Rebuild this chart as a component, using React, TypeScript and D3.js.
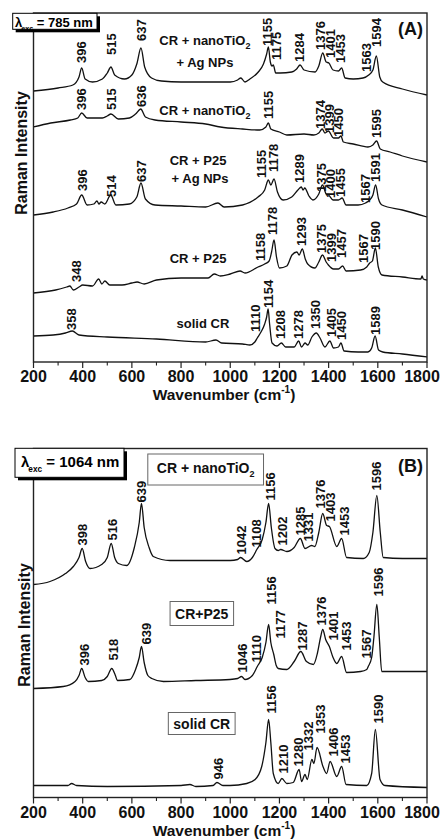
import React, { useEffect, useRef } from "react";
import * as d3 from "d3";

type Pt = [number, number];
// [label text, anchor wavenumber, intensity at the label's lower end]
type PeakLabel = [string, number, number];
// [main text, subscript, centre wavenumber, baseline intensity]
type SeriesLabel = [string, string, number, number];

const majorTicks = [200, 400, 600, 800, 1000, 1200, 1400, 1600, 1800];
const minorTicks = [300, 500, 700, 900, 1100, 1300, 1500, 1700];

// ---------- Panel A (λexc = 785 nm) spectra, wavenumber vs intensity (a.u.) ----------
const a785TiO2Ag: Pt[] = [
  [200, 271], [300, 274], [360, 277], [385, 285], [396, 294], [410, 283], [440, 280], [480, 283],
  [500, 289], [515, 295], [530, 287], [570, 283], [600, 287], [620, 298], [637, 314], [652, 295],
  [680, 284], [720, 281], [800, 280], [900, 280], [1000, 280], [1030, 282], [1043, 284], [1060, 280],
  [1080, 283], [1114, 290], [1135, 298], [1148, 308], [1155, 315], [1163, 300], [1170, 296], [1175, 297],
  [1185, 289], [1203, 289], [1250, 290], [1270, 293], [1284, 297], [1300, 292], [1345, 290], [1360, 296],
  [1376, 309], [1390, 300], [1401, 299], [1418, 292], [1440, 291], [1453, 294], [1467, 284], [1500, 283],
  [1540, 284], [1563, 287], [1580, 292], [1594, 306], [1608, 285], [1620, 280], [1700, 273], [1800, 267],
];
const a785TiO2: Pt[] = [
  [200, 235], [270, 239], [350, 242], [380, 244], [396, 249], [418, 244], [480, 244], [500, 246],
  [515, 248], [545, 243], [590, 244], [615, 248], [636, 253], [655, 245], [694, 242], [800, 240],
  [900, 238], [960, 235], [1050, 233], [1120, 232], [1145, 235], [1155, 239], [1165, 233], [1200, 230],
  [1230, 227], [1300, 228], [1340, 227], [1360, 229], [1374, 233], [1385, 229], [1399, 231], [1420, 224],
  [1440, 224], [1450, 226], [1460, 220], [1500, 218], [1560, 215], [1580, 217], [1595, 221], [1610, 213],
  [1650, 210], [1700, 206], [1800, 200],
];
const a785P25Ag: Pt[] = [
  [200, 147], [280, 150], [340, 154], [375, 158], [396, 167], [418, 157], [445, 158], [458, 161],
  [466, 158], [475, 160], [490, 158], [514, 167], [535, 157], [590, 158], [620, 165], [637, 179],
  [655, 163], [694, 157], [800, 156], [900, 155], [950, 159], [975, 155], [1050, 157], [1113, 165],
  [1140, 172], [1155, 182], [1165, 177], [1178, 183], [1192, 170], [1215, 162], [1250, 165], [1275, 172],
  [1289, 175], [1296, 172], [1303, 174], [1320, 166], [1336, 162], [1360, 168], [1375, 177], [1390, 168],
  [1400, 167], [1418, 162], [1440, 162], [1455, 164], [1471, 157], [1520, 157], [1550, 159], [1567, 162],
  [1580, 167], [1591, 177], [1603, 163], [1617, 157], [1700, 152], [1800, 145],
];
const a785P25: Pt[] = [
  [200, 69], [290, 72], [335, 75], [348, 76], [362, 72], [385, 75], [400, 77], [440, 76],
  [465, 83], [478, 78], [490, 81], [510, 77], [560, 77], [600, 79], [621, 80], [650, 78],
  [700, 82], [800, 84], [910, 84], [935, 88], [960, 86], [1000, 88], [1040, 91], [1060, 89],
  [1113, 95], [1140, 98], [1158, 101], [1168, 110], [1178, 122], [1188, 105], [1200, 94], [1230, 96],
  [1251, 107], [1271, 110], [1280, 107], [1293, 113], [1305, 103], [1315, 98], [1344, 94], [1360, 100],
  [1375, 107], [1390, 100], [1399, 97], [1420, 93], [1440, 93], [1457, 96], [1471, 91], [1530, 92],
  [1555, 95], [1567, 99], [1578, 101], [1590, 114], [1602, 95], [1617, 87], [1700, 85], [1775, 83],
  [1780, 86], [1785, 83], [1800, 82],
];
const a785Solid: Pt[] = [
  [200, 26], [280, 27], [330, 29], [358, 31], [385, 27], [500, 25], [700, 23], [900, 20],
  [942, 22], [965, 19], [1050, 18], [1080, 17], [1100, 20], [1110, 24], [1125, 30], [1140, 38],
  [1148, 45], [1154, 53], [1160, 38], [1170, 19], [1190, 16], [1208, 19], [1225, 15], [1260, 15],
  [1278, 21], [1290, 15], [1304, 19], [1315, 17], [1332, 25], [1350, 29], [1365, 24], [1385, 15],
  [1405, 21], [1420, 14], [1440, 15], [1450, 19], [1463, 11], [1520, 10], [1560, 10], [1575, 14],
  [1589, 26], [1603, 12], [1620, 10], [1700, 8], [1800, 5],
];

// ---------- Panel B (λexc = 1064 nm) spectra ----------
const b1064TiO2: Pt[] = [
  [200, 213], [267, 216], [330, 224], [362, 231], [385, 240], [398, 249], [412, 236], [430, 229],
  [477, 233], [500, 240], [516, 254], [530, 240], [545, 234], [579, 232], [610, 250], [630, 275],
  [639, 294], [650, 270], [670, 250], [687, 241], [755, 237], [900, 237], [1000, 237], [1030, 238],
  [1042, 240], [1067, 236], [1090, 240], [1108, 248], [1130, 258], [1145, 275], [1156, 294], [1167, 270],
  [1182, 249], [1195, 247], [1205, 248], [1230, 246], [1260, 250], [1285, 259], [1304, 249], [1331, 252],
  [1344, 251], [1360, 265], [1376, 284], [1392, 272], [1403, 271], [1433, 251], [1453, 259], [1473, 240],
  [1541, 239], [1565, 245], [1580, 265], [1596, 302], [1610, 265], [1622, 240], [1700, 239], [1800, 239],
];
const b1064P25: Pt[] = [
  [200, 109], [321, 111], [369, 116], [385, 122], [396, 129], [410, 120], [423, 116], [477, 117],
  [500, 121], [518, 129], [533, 122], [541, 117], [592, 118], [615, 128], [630, 140], [639, 151],
  [650, 135], [665, 122], [681, 119], [728, 116], [860, 117], [999, 118], [1030, 119], [1046, 121],
  [1060, 118], [1090, 122], [1110, 131], [1130, 140], [1145, 155], [1156, 173], [1165, 155], [1177, 143],
  [1187, 132], [1195, 129], [1230, 128], [1260, 136], [1287, 146], [1310, 136], [1338, 133], [1355, 145],
  [1367, 160], [1376, 168], [1388, 158], [1403, 151], [1418, 140], [1433, 134], [1453, 141], [1473, 125],
  [1530, 126], [1555, 128], [1561, 131], [1575, 140], [1584, 160], [1596, 193], [1606, 160], [1616, 126],
  [1700, 126], [1800, 126],
];
const b1064Solid: Pt[] = [
  [200, 12], [340, 12], [355, 14], [375, 12], [500, 11], [800, 12], [836, 13], [860, 11],
  [930, 12], [946, 15], [970, 12], [999, 12], [1067, 14], [1101, 18], [1128, 31], [1145, 55],
  [1156, 78], [1165, 55], [1175, 24], [1195, 14], [1210, 19], [1230, 14], [1256, 15], [1280, 28],
  [1290, 16], [1304, 23], [1313, 18], [1332, 38], [1340, 34], [1353, 50], [1377, 31], [1392, 24],
  [1406, 36], [1433, 21], [1453, 31], [1471, 13], [1555, 12], [1575, 24], [1590, 68], [1609, 18],
  [1629, 12], [1800, 10],
];

// ---------- Peak labels ----------
const labelsA: PeakLabel[] = [
  ["396", 396, 299], ["515", 518, 307], ["637", 640, 321], ["1155", 1152, 316], ["1175", 1189, 302],
  ["1284", 1280, 300], ["1376", 1368, 312], ["1401", 1406, 304], ["1453", 1449, 299], ["1563", 1552, 290],
  ["1594", 1593, 315],
  ["396", 396, 252], ["515", 518, 252], ["636", 640, 255], ["1155", 1155, 243], ["1374", 1368, 233],
  ["1399", 1403, 229], ["1450", 1440, 225], ["1595", 1593, 224],
  ["396", 400, 171], ["514", 518, 165], ["637", 640, 180], ["1155", 1128, 184], ["1178", 1175, 190],
  ["1289", 1281, 179], ["1375", 1372, 170], ["1400", 1406, 164], ["1455", 1449, 165], ["1567", 1548, 159],
  ["1591", 1588, 180],
  ["348", 374, 80], ["1158", 1121, 101], ["1178", 1172, 127], ["1293", 1290, 116], ["1375", 1372, 109],
  ["1399", 1412, 100], ["1457", 1453, 104], ["1567", 1541, 99], ["1590", 1588, 112],
  ["358", 355, 32], ["1110", 1101, 30], ["1154", 1155, 54], ["1208", 1202, 23], ["1278", 1277, 23],
  ["1350", 1344, 33], ["1405", 1412, 25], ["1450", 1453, 22], ["1589", 1588, 27],
];
const labelsB: PeakLabel[] = [
  ["398", 400, 252], ["516", 522, 257], ["639", 640, 295], ["1042", 1047, 243], ["1108", 1108, 250],
  ["1156", 1164, 297], ["1202", 1212, 252], ["1285", 1284, 262], ["1331", 1318, 256], ["1376", 1368, 289],
  ["1403", 1406, 276], ["1453", 1463, 262], ["1596", 1595, 307],
  ["396", 405, 132], ["518", 524, 137], ["639", 660, 153], ["1046", 1051, 125], ["1110", 1108, 135],
  ["1156", 1168, 193], ["1177", 1205, 159], ["1287", 1295, 147], ["1376", 1372, 172], ["1401", 1419, 157],
  ["1453", 1473, 147], ["1567", 1555, 139], ["1596", 1602, 201],
  ["946", 952, 18], ["1156", 1168, 84], ["1210", 1216, 24], ["1280", 1277, 31], ["1332", 1318, 47],
  ["1353", 1365, 64], ["1406", 1419, 41], ["1453", 1467, 34], ["1590", 1600, 74],
];

// ---------- Series labels ----------
const seriesA: SeriesLabel[] = [
  ["CR + nanoTiO", "2", 897, 317],
  ["+ Ag NPs", "", 897, 295],
  ["CR + nanoTiO", "2", 897, 247],
  ["CR + P25", "", 869, 197],
  ["+ Ag NPs", "", 877, 179],
  ["CR + P25", "", 869, 99],
  ["solid CR", "", 889, 34],
];
const seriesB: SeriesLabel[] = [
  ["CR + nanoTiO", "2", 900, 324.5],
  ["CR+P25", "", 884, 179],
  ["solid CR", "", 884, 69],
];

const FONT = "'Liberation Sans', Arial, Helvetica, sans-serif";

export default function App() {
  const ref = useRef<SVGSVGElement | null>(null);

  useEffect(() => {
    const svg = d3.select(ref.current);
    svg.selectAll("*").remove();
    const x = d3.scaleLinear().domain([200, 1800]).range([33.5, 427]);

    const panels = [
      {
        top: 13, bottom: 362, spectra: [a785TiO2Ag, a785TiO2, a785P25Ag, a785P25, a785Solid],
        labels: labelsA, series: seriesA, boxed: false, tag: "(A)", tagY: 35,
        lam: "785 nm", lamBox: [12.7, 13.3, 84.3, 16], lamFont: 13, lamX: 15, lamBase: 27.3, yTitleY: 153, yTitleX: 27,
      },
      {
        top: 448.5, bottom: 797.5, spectra: [b1064TiO2, b1064P25, b1064Solid],
        labels: labelsB, series: seriesB, boxed: true, tag: "(B)", tagY: 472,
        lam: "1064 nm", lamBox: [15, 448.3, 109, 29], lamFont: 15, lamX: 21, lamBase: 467, yTitleY: 625, yTitleX: 30,
      },
    ];

    panels.forEach((p) => {
      const y = d3.scaleLinear().domain([0, 349]).range([p.bottom, p.top]);
      const g = svg.append("g");
      const line = d3.line<Pt>().x((d) => x(d[0])).y((d) => y(d[1])).curve(d3.curveMonotoneX);

      g.selectAll("path.spec")
        .data(p.spectra)
        .join("path")
        .attr("class", "spec")
        .attr("d", (d) => line(d) as string)
        .attr("fill", "none")
        .attr("stroke", "#111")
        .attr("stroke-width", 1.3)
        .attr("stroke-linejoin", "round");

      // peak labels
      g.selectAll("text.peak")
        .data(p.labels)
        .join("text")
        .attr("class", "peak")
        .attr("transform", (d) => `translate(${x(d[1])},${y(d[2])}) rotate(-90)`)
        .attr("dy", "0.36em")
        .attr("font-family", FONT)
        .attr("font-weight", "bold")
        .attr("font-size", 13)
        .attr("fill", "#111")
        .text((d) => d[0]);

      // series labels
      const padsB = [[9, 8], [5, 6], [5, 5]];
      p.series.forEach((s, i) => {
        const sg = g.append("g");
        const t = sg.append("text")
          .attr("x", x(s[2]))
          .attr("y", y(s[3]))
          .attr("text-anchor", "middle")
          .attr("font-family", FONT)
          .attr("font-weight", "bold")
          .attr("font-size", p.boxed ? 14 : 13)
          .attr("fill", "#111");
        t.append("tspan").text(s[0]);
        if (s[1]) t.append("tspan").attr("dy", 4).attr("font-size", 9).text(s[1]);
        if (p.boxed) {
          const bb = (t.node() as SVGTextElement).getBBox();
          const [px, py] = padsB[i];
          sg.insert("rect", "text")
            .attr("x", bb.x - px)
            .attr("y", bb.y - py + 2)
            .attr("width", bb.width + 2 * px)
            .attr("height", bb.height + 2 * py - 4)
            .attr("fill", "#fff")
            .attr("stroke", "#666")
            .attr("stroke-width", 1);
        }
      });

      // frame
      g.append("rect")
        .attr("x", x(200)).attr("y", p.top)
        .attr("width", x(1800) - x(200)).attr("height", p.bottom - p.top)
        .attr("fill", "none").attr("stroke", "#222").attr("stroke-width", 1.4);

      // ticks
      g.selectAll("line.maj").data(majorTicks).join("line")
        .attr("x1", (d) => x(d)).attr("x2", (d) => x(d))
        .attr("y1", p.bottom).attr("y2", p.bottom + 6)
        .attr("stroke", "#222").attr("stroke-width", 1.2);
      g.selectAll("line.min").data(minorTicks).join("line")
        .attr("x1", (d) => x(d)).attr("x2", (d) => x(d))
        .attr("y1", p.bottom).attr("y2", p.bottom + 3.5)
        .attr("stroke", "#222").attr("stroke-width", 1.1);
      g.selectAll("text.tick").data(majorTicks).join("text")
        .attr("x", (d) => Math.min(x(d), 422))
        .attr("y", p.bottom + 20)
        .attr("text-anchor", "middle")
        .attr("font-family", FONT).attr("font-weight", "bold").attr("font-size", 16)
        .attr("fill", "#111")
        .text((d) => String(d));

      // x title
      const xt = g.append("text")
        .attr("x", 224).attr("y", p.bottom + 38)
        .attr("text-anchor", "middle")
        .attr("font-family", FONT).attr("font-weight", "bold").attr("font-size", 15.5)
        .attr("fill", "#111");
      xt.append("tspan").text("Wavenumber (cm");
      xt.append("tspan").attr("dy", -7).attr("font-size", 10).text("-1");
      xt.append("tspan").attr("dy", 7).text(")");

      // y title
      g.append("text")
        .attr("transform", `translate(${p.yTitleX},${p.yTitleY}) rotate(-90)`)
        .attr("text-anchor", "middle")
        .attr("font-family", FONT).attr("font-weight", "bold").attr("font-size", 16)
        .attr("fill", "#111")
        .text("Raman Intensity");

      // panel tag
      g.append("text")
        .attr("x", 398).attr("y", p.tagY)
        .attr("font-family", FONT).attr("font-weight", "bold").attr("font-size", 18)
        .attr("fill", "#111")
        .text(p.tag);

      // excitation box
      const [bx, by, bw, bh] = p.lamBox;
      g.append("rect").attr("x", bx + 3).attr("y", by + 3).attr("width", bw).attr("height", bh).attr("fill", "#000");
      g.append("rect").attr("x", bx).attr("y", by).attr("width", bw).attr("height", bh)
        .attr("fill", "#fff").attr("stroke", "#000").attr("stroke-width", 1);
      const lt = g.append("text")
        .attr("x", p.lamX).attr("y", p.lamBase)
        .attr("font-family", FONT).attr("font-weight", "bold").attr("font-size", p.lamFont)
        .attr("fill", "#000");
      lt.append("tspan").text("λ");
      lt.append("tspan").attr("dx", -1).attr("dy", p.lamFont * 0.3).attr("font-size", p.lamFont * 0.55).text("exc");
      lt.append("tspan").attr("dy", -p.lamFont * 0.3).text(" = " + p.lam);
    });
  }, []);

  return (
    <svg
      ref={ref}
      width={443}
      height={840}
      style={{ position: "absolute", left: 0, top: 0, background: "#fff" }}
    />
  );
}
